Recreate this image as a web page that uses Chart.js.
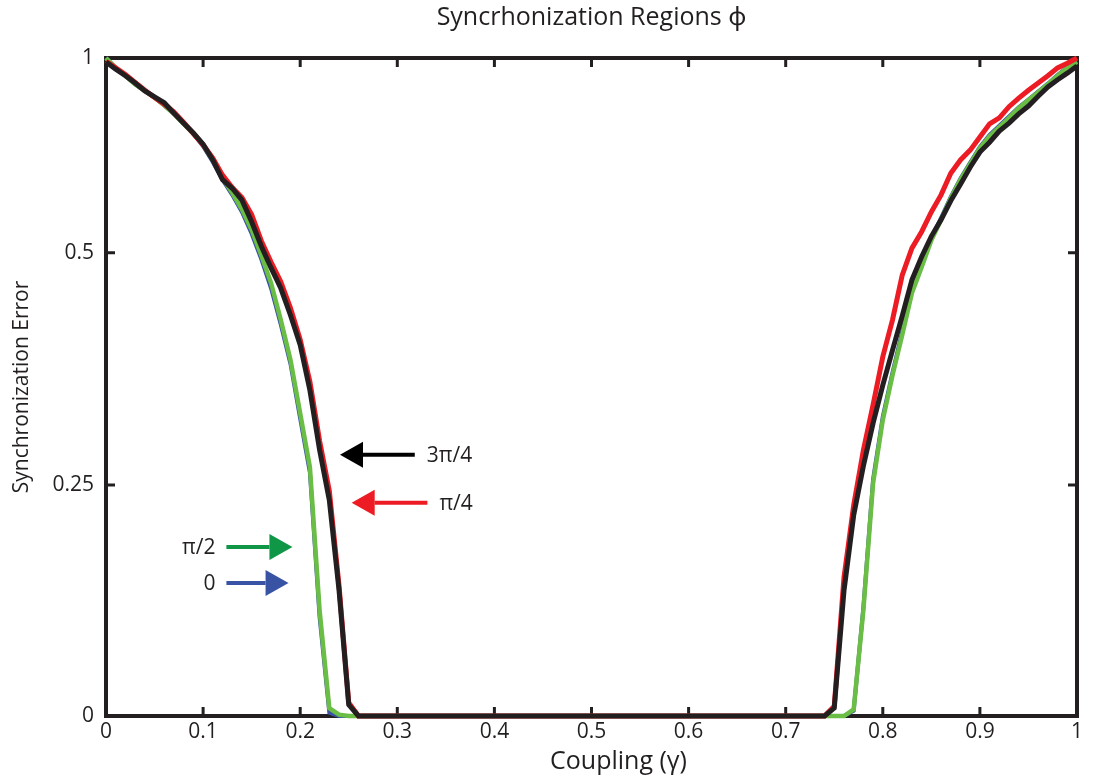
<!DOCTYPE html>
<html>
<head>
<meta charset="utf-8">
<script src="https://cdn.jsdelivr.net/npm/chart.js@4.4.1/dist/chart.umd.min.js"></script>
<style>
  html, body { margin: 0; padding: 0; background: #fff; }
  #wrap { width: 1093px; height: 780px; }
</style>
</head>
<body>
<div id="wrap"><canvas id="chart"></canvas></div>
<script>
// coupling values (x); the flat middle stretch is all zeros
const coupling = [
  0, 0.01, 0.02, 0.03, 0.04, 0.05, 0.06, 0.07, 0.08, 0.09, 0.10, 0.11, 0.12, 0.13,
  0.14, 0.15, 0.16, 0.17, 0.18, 0.19, 0.20, 0.21, 0.22, 0.23, 0.24, 0.25, 0.26,
  0.5,
  0.73, 0.74, 0.75, 0.76, 0.77, 0.78, 0.79, 0.80, 0.81, 0.82, 0.83, 0.84, 0.85, 0.86,
  0.87, 0.88, 0.89, 0.90, 0.91, 0.92, 0.93, 0.94, 0.95, 0.96, 0.97, 0.98, 0.99, 1.00
];

const err3Pi4 = [
  0.994, 0.983, 0.973, 0.962, 0.950, 0.941, 0.932, 0.916, 0.901, 0.886, 0.869, 0.845, 0.815, 0.802,
  0.784, 0.751, 0.714, 0.681, 0.650, 0.609, 0.564, 0.495, 0.404, 0.328, 0.191, 0.017, 0,
  0,
  0, 0, 0.012, 0.190, 0.305, 0.380, 0.445, 0.503, 0.556, 0.608, 0.663, 0.698, 0.729, 0.754,
  0.783, 0.808, 0.834, 0.857, 0.872, 0.889, 0.901, 0.915, 0.927, 0.942, 0.956, 0.967, 0.977, 0.988
];

const errPi4 = [
  0.995, 0.985, 0.975, 0.963, 0.951, 0.940, 0.930, 0.918, 0.902, 0.885, 0.868, 0.848, 0.822, 0.803,
  0.788, 0.762, 0.722, 0.690, 0.660, 0.620, 0.572, 0.508, 0.418, 0.342, 0.198, 0.020, 0,
  0,
  0, 0, 0.015, 0.210, 0.320, 0.404, 0.473, 0.546, 0.602, 0.670, 0.711, 0.736, 0.766, 0.792,
  0.825, 0.845, 0.860, 0.880, 0.900, 0.909, 0.926, 0.939, 0.951, 0.962, 0.973, 0.985, 0.992, 1.000
];

const errPi2 = [
  1.000, 0.985, 0.973, 0.960, 0.950, 0.940, 0.928, 0.915, 0.900, 0.885, 0.868, 0.845, 0.818, 0.795,
  0.770, 0.739, 0.700, 0.658, 0.602, 0.541, 0.460, 0.378, 0.160, 0.012, 0.002, 0, 0,
  0,
  0, 0, 0, 0, 0.010, 0.161, 0.354, 0.450, 0.518, 0.579, 0.643, 0.682, 0.723, 0.754,
  0.787, 0.815, 0.839, 0.863, 0.881, 0.895, 0.909, 0.924, 0.936, 0.948, 0.960, 0.973, 0.985, 0.994
];

const errZero = [
  1.000, 0.985, 0.973, 0.960, 0.950, 0.940, 0.928, 0.915, 0.900, 0.885, 0.866, 0.842, 0.815, 0.792,
  0.766, 0.733, 0.694, 0.650, 0.595, 0.535, 0.452, 0.370, 0.150, 0.005, 0, 0, 0,
  0,
  0, 0, 0, 0, 0.008, 0.165, 0.360, 0.455, 0.522, 0.584, 0.646, 0.688, 0.726, 0.757,
  0.789, 0.817, 0.841, 0.865, 0.883, 0.897, 0.911, 0.925, 0.937, 0.949, 0.961, 0.974, 0.986, 0.995
];

const xTickValues = [0, 0.1, 0.2, 0.3, 0.4, 0.5, 0.6, 0.7, 0.8, 0.9, 1];
const xTickLabels = ["0", "0.1", "0.2", "0.3", "0.4", "0.5", "0.6", "0.7", "0.8", "0.9", "1"];
// the original axis marks sit where these fractions of the height are
const yTickValues = [0, 0.351, 0.704, 1];
const yTickLabels = ["0", "0.25", "0.5", "1"];

// phase arrows: label, height, tip x, tail x
const arrowLabels = ["3π/4", "π/4", "π/2", "0"];
const arrowY = [0.397, 0.324, 0.257, 0.202];
const arrowTipX = [0.241, 0.253, 0.192, 0.188];
const arrowTailX = [0.318, 0.331, 0.124, 0.124];
const arrowColors = ["#000000", "#ed1c24", "#0f9647", "#3953a4"];

const ink = "#231f20";
const fontFamily = "'Open Sans', 'Noto Sans', sans-serif";
const xTitle = "Coupling (γ)";

const framePlugin = {
  id: "frame",
  beforeDatasetsDraw(chart) {
    const { ctx, chartArea: a, scales: { x, y } } = chart;
    ctx.save();
    ctx.strokeStyle = ink;
    ctx.lineWidth = 3;
    ctx.beginPath();
    x.ticks.forEach(t => {
      const px = x.getPixelForValue(t.value);
      ctx.moveTo(px, a.bottom); ctx.lineTo(px, a.bottom - 9);
      ctx.moveTo(px, a.top); ctx.lineTo(px, a.top + 9);
    });
    y.ticks.forEach(t => {
      const py = y.getPixelForValue(t.value);
      ctx.moveTo(a.left, py); ctx.lineTo(a.left + 9, py);
      ctx.moveTo(a.right, py); ctx.lineTo(a.right - 9, py);
    });
    ctx.stroke();
    ctx.lineWidth = 4;
    ctx.strokeRect(a.left, a.top, a.right - a.left, a.bottom - a.top);
    ctx.restore();
  }
};

const arrowPlugin = {
  id: "arrows",
  afterDatasetsDraw(chart) {
    const { ctx, chartArea: a, scales: { x, y } } = chart;
    ctx.save();
    ctx.font = "21px " + fontFamily;
    ctx.textBaseline = "middle";
    arrowLabels.forEach((label, i) => {
      const tip = x.getPixelForValue(arrowTipX[i]);
      const tail = x.getPixelForValue(arrowTailX[i]);
      const py = y.getPixelForValue(arrowY[i]);
      const dir = tip > tail ? 1 : -1;
      const base = tip - dir * 23;
      ctx.strokeStyle = arrowColors[i];
      ctx.fillStyle = arrowColors[i];
      ctx.lineWidth = 4;
      ctx.beginPath();
      ctx.moveTo(tail, py);
      ctx.lineTo(base, py);
      ctx.stroke();
      ctx.beginPath();
      ctx.moveTo(tip, py);
      ctx.lineTo(base, py - 13);
      ctx.lineTo(base, py + 13);
      ctx.closePath();
      ctx.fill();
      ctx.fillStyle = ink;
      if (dir < 0) {
        ctx.textAlign = "left";
        ctx.fillText(label, tail + 12, py + 1);
      } else {
        ctx.textAlign = "right";
        ctx.fillText(label, tail - 11, py + 1);
      }
    });
    // x axis title sits a little right of centre in the original
    ctx.font = "25px " + fontFamily;
    ctx.textAlign = "center";
    ctx.fillText(xTitle, (a.left + a.right) / 2 + 27, 762);
    ctx.restore();
  }
};

function line(data, color, width) {
  return {
    data: data,
    borderColor: color,
    backgroundColor: color,
    borderWidth: width,
    pointRadius: 0,
    tension: 0,
    clip: false
  };
}

new Chart(document.getElementById("chart"), {
  type: "line",
  data: {
    labels: coupling,
    // first dataset is drawn on top
    datasets: [
      line(err3Pi4, "#231f20", 5),
      line(errPi4, "#ed1c24", 5),
      line(errPi2, "#6abd45", 4.5),
      line(errZero, "#3953a4", 4)
    ]
  },
  options: {
    responsive: true,
    maintainAspectRatio: false,
    animation: false,
    layout: { padding: { left: 0, right: 16, top: 0, bottom: 0 } },
    plugins: {
      legend: { display: false },
      tooltip: { enabled: false },
      title: {
        display: true,
        fullSize: false,
        text: "Syncrhonization Regions ϕ",
        color: ink,
        font: { family: fontFamily, size: 25, weight: "normal" },
        padding: { top: 3, bottom: 25 }
      }
    },
    scales: {
      x: {
        type: "linear",
        min: 0,
        max: 1,
        grid: { display: false, drawTicks: false },
        border: { display: false },
        afterBuildTicks: s => { s.ticks = xTickValues.map(v => ({ value: v })); },
        afterFit: s => { s.height = 64; },
        ticks: {
          padding: 3,
          color: ink,
          font: { family: fontFamily, size: 21 },
          maxRotation: 0,
          callback: (v, i) => xTickLabels[i]
        },
        title: { display: false }
      },
      y: {
        min: 0,
        max: 1,
        grid: { display: false, drawTicks: false },
        border: { display: false },
        afterBuildTicks: s => { s.ticks = yTickValues.map(v => ({ value: v })); },
        afterFit: s => { s.width = 106; },
        ticks: {
          padding: 12,
          color: ink,
          font: { family: fontFamily, size: 21 },
          callback: (v, i) => yTickLabels[i]
        },
        title: {
          display: true,
          text: "Synchronization Error",
          color: ink,
          font: { family: fontFamily, size: 21 },
          padding: { top: 9, bottom: 0 }
        }
      }
    }
  },
  plugins: [framePlugin, arrowPlugin]
});
</script>
</body>
</html>
